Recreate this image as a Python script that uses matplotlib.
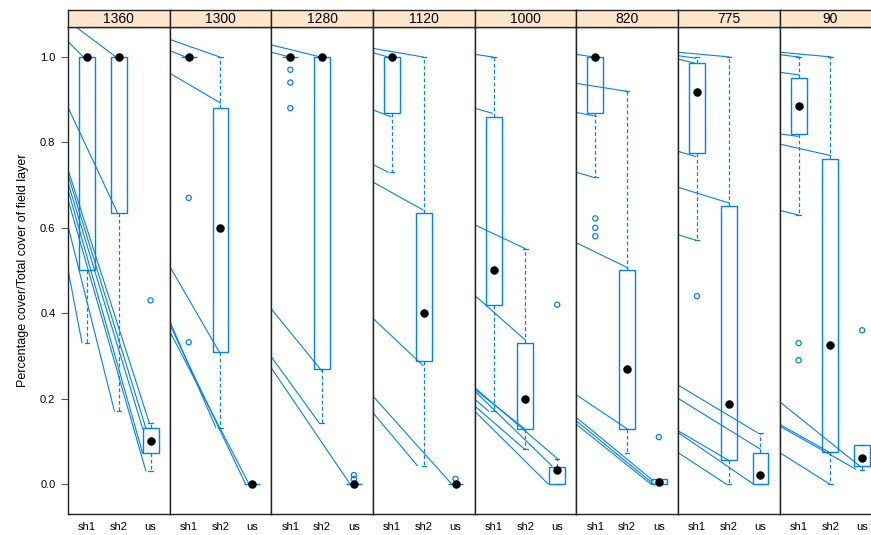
import matplotlib
matplotlib.use("Agg")
import matplotlib.pyplot as plt
from matplotlib.patches import Rectangle

plt.rcParams['font.family'] = ['Liberation Sans', 'DejaVu Sans']

panels = ["1360", "1300", "1280", "1120", "1000", "820", "775", "90"]
groups = ["sh1", "sh2", "us"]

# box statistics per panel, order sh1, sh2, us
medians = [[1.0, 1.0, 0.10], [1.0, 0.60, 0.0], [1.0, 1.0, 0.0], [1.0, 0.40, 0.0],
           [0.50, 0.20, 0.033], [1.0, 0.27, 0.005], [0.918, 0.187, 0.021], [0.884, 0.325, 0.06]]
q1 = [[0.50, 0.635, 0.072], [1.0, 0.31, 0.0], [1.0, 0.27, 0.0], [0.869, 0.287, 0.0],
      [0.42, 0.13, 0.0], [0.869, 0.13, 0.0], [0.775, 0.056, 0.0], [0.82, 0.075, 0.042]]
q3 = [[1.0, 1.0, 0.131], [1.0, 0.88, 0.0], [1.0, 1.0, 0.0], [1.0, 0.635, 0.0],
      [0.86, 0.33, 0.041], [1.0, 0.50, 0.012], [0.985, 0.65, 0.072], [0.95, 0.76, 0.091]]
whisk_lo = [[0.331, 0.171, 0.031], [1.0, 0.131, 0.0], [1.0, 0.143, 0.0], [0.73, 0.042, 0.0],
            [0.171, 0.082, 0.0], [0.72, 0.072, 0.0], [0.572, 0.0, 0.0], [0.63, 0.0, 0.033]]
whisk_hi = [[1.0, 1.0, 0.143], [1.0, 1.0, 0.0], [1.0, 1.0, 0.0], [1.0, 1.0, 0.0],
            [1.0, 0.55, 0.058], [1.0, 0.92, 0.012], [1.0, 1.0, 0.12], [1.0, 1.0, 0.091]]
outliers = [[[], [], [0.43]], [[0.67, 0.332], [], []], [[0.97, 0.94, 0.88], [], [0.021, 0.012]],
            [[], [], [0.012]], [[], [], [0.42]], [[0.622, 0.60, 0.58], [], [0.11]],
            [[0.44], [], []], [[0.33, 0.29], [], [0.36]]]

# connecting lines: (value at panel left edge, x end, value at end)
lines = [
    [(1.084, 1.91, 1.0), (1.036, 0.88, 1.0), (0.882, 1.96, 0.635), (0.502, 0.84, 0.331),
     (0.604, 1.86, 0.171), (0.736, 2.96, 0.143), (0.724, 2.85, 0.131), (0.705, 2.75, 0.13),
     (0.689, 2.75, 0.072), (0.666, 2.85, 0.031)],
    [(1.041, 1.97, 1.0), (1.015, 0.9, 1.0), (0.962, 2.0, 0.892), (0.51, 1.97, 0.308),
     (0.382, 1.85, 0.133), (0.374, 2.79, 0.0), (0.358, 2.9, 0.0)],
    [(1.028, 1.94, 1.0), (1.011, 0.97, 1.0), (0.41, 1.99, 0.265), (0.298, 1.92, 0.142),
     (0.272, 2.88, 0.0)],
    [(1.02, 1.97, 1.0), (1.01, 0.87, 1.0), (0.876, 0.96, 0.86), (0.748, 0.88, 0.73),
     (0.707, 1.97, 0.642), (0.388, 1.97, 0.278), (0.206, 2.88, 0.0), (0.167, 1.8, 0.043)],
    [(1.006, 0.96, 1.0), (0.88, 0.96, 0.868), (0.607, 2.0, 0.551), (0.442, 2.0, 0.337),
     (0.226, 3.03, 0.058), (0.218, 2.83, 0.043), (0.222, 1.97, 0.13), (0.199, 0.84, 0.171),
     (0.183, 1.97, 0.082), (0.171, 2.72, 0.0)],
    [(1.006, 0.93, 1.0), (0.938, 2.03, 0.919), (0.87, 1.03, 0.861), (0.73, 0.9, 0.719),
     (0.565, 2.03, 0.506), (0.209, 2.03, 0.128), (0.156, 2.82, 0.008), (0.148, 2.84, 0.0),
     (0.14, 2.75, 0.0)],
    [(1.011, 2.01, 1.0), (1.003, 0.95, 0.997), (0.995, 0.95, 0.985), (0.779, 0.96, 0.767),
     (0.695, 2.01, 0.658), (0.584, 0.96, 0.571), (0.232, 2.89, 0.121), (0.201, 2.99, 0.082),
     (0.125, 2.01, 0.055), (0.121, 2.78, 0.0), (0.074, 1.92, 0.0)],
    [(1.011, 2.01, 1.0), (1.005, 1.0, 1.0), (0.964, 1.0, 0.958), (0.82, 0.98, 0.814),
     (0.796, 2.01, 0.769), (0.641, 1.03, 0.629), (0.193, 2.91, 0.043), (0.14, 1.98, 0.074),
     (0.136, 2.8, 0.035), (0.074, 1.98, 0.0)],
]

yticks = [0.0, 0.2, 0.4, 0.6, 0.8, 1.0]
blue = "#0080ff"
XL, XR = 0.4, 3.6
W, H = 871, 535

fig = plt.figure(figsize=(W / 100, H / 100), dpi=100)
left, pw = 68, 101.65
top, bottom, strip_top = 27, 514, 10

for i, name in enumerate(panels):
    x0 = left + i * pw
    ax = fig.add_axes([x0 / W, 1 - bottom / H, pw / W, (bottom - top) / H])
    ax.set_xlim(XL, XR)
    ax.set_ylim(-0.07, 1.07)

    for yl, xe, ye in lines[i]:
        ax.plot([XL, xe], [yl, ye], color=blue, lw=0.8, zorder=1)

    for j in range(3):
        xc = j + 1
        ax.add_patch(Rectangle((xc - 0.25, q1[i][j]), 0.5, q3[i][j] - q1[i][j],
                               fill=False, ec=blue, lw=1.0, zorder=2))
        ax.plot([xc, xc], [q3[i][j], whisk_hi[i][j]], color=blue, lw=0.9, ls=(0, (3, 2)), zorder=2)
        ax.plot([xc, xc], [q1[i][j], whisk_lo[i][j]], color=blue, lw=0.9, ls=(0, (3, 2)), zorder=2)
        for w in (whisk_hi[i][j], whisk_lo[i][j]):
            ax.plot([xc - 0.07, xc + 0.07], [w, w], color=blue, lw=0.9, zorder=2)
        if outliers[i][j]:
            ax.scatter([xc] * len(outliers[i][j]), outliers[i][j], s=14, facecolors="none",
                       edgecolors=blue, linewidths=0.9, zorder=3)
        ax.scatter([xc], [medians[i][j]], s=26, color="black", zorder=4)

    ax.set_xticks([1, 2, 3])
    ax.set_xticklabels(groups, fontsize=8)
    ax.tick_params(axis="x", length=0, pad=6)
    if i == 0:
        ax.set_yticks(yticks)
        ax.set_yticklabels([f"{v:.1f}" for v in yticks], fontsize=8)
        ax.tick_params(axis="y", length=5, color="#555555", pad=4)
        ax.set_ylabel("Percentage cover/Total cover of field layer", fontsize=9, labelpad=8)
    else:
        ax.set_yticks([])
    for sp in ax.spines.values():
        sp.set_color("#222222")
        sp.set_linewidth(1.0)

    sax = fig.add_axes([x0 / W, 1 - top / H, pw / W, (top - strip_top) / H])
    sax.set_facecolor("#ffe5cc")
    sax.set_xticks([])
    sax.set_yticks([])
    sax.text(0.5, 0.45, name, ha="center", va="center", fontsize=10, transform=sax.transAxes)
    for sp in sax.spines.values():
        sp.set_color("#222222")
        sp.set_linewidth(1.0)

fig.savefig("out.png", dpi=100)
